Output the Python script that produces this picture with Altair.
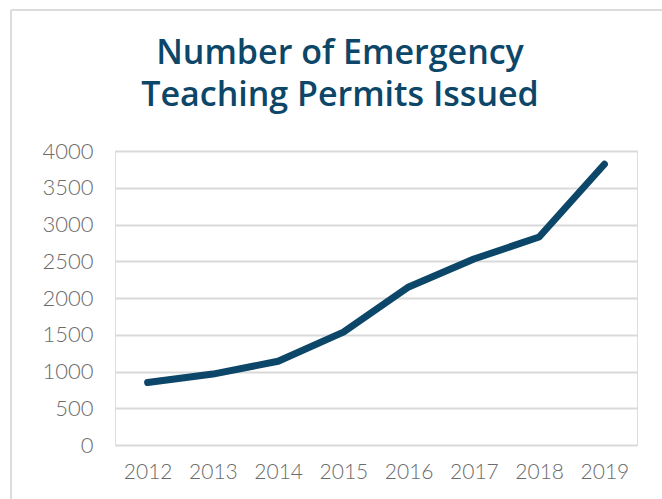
import altair as alt
import pandas as pd

# Emergency teaching permits issued per year
years = ["2012", "2013", "2014", "2015", "2016", "2017", "2018", "2019"]
permits = [850, 965, 1140, 1535, 2150, 2530, 2830, 3820]

y_ticks = [0, 500, 1000, 1500, 2000, 2500, 3000, 3500, 4000]

NAVY = "#0c4668"
GRID = "#d9d9d9"
LABEL = "#6b6b6b"

df = pd.DataFrame({"year": years, "permits": permits})

line = (
    alt.Chart(df)
    .mark_line(color=NAVY, strokeWidth=7, strokeCap="round", strokeJoin="round")
    .encode(
        x=alt.X(
            "year:O",
            sort=years,
            scale=alt.Scale(type="point", padding=0.5),
            axis=alt.Axis(
                title=None, labelAngle=0, ticks=False, domain=False, grid=False,
                labelPadding=16, labelFontSize=21, labelColor=LABEL,
                labelFont="Lato", labelFontWeight=300,
            ),
        ),
        y=alt.Y(
            "permits:Q",
            scale=alt.Scale(domain=[0, 4000], nice=False),
            axis=alt.Axis(
                title=None, values=y_ticks, format="d", ticks=False, domain=False,
                gridColor=GRID, gridWidth=2, labelPadding=22,
                labelFontSize=22, labelColor=LABEL,
                labelFont="Lato", labelFontWeight=300,
            ),
        ),
    )
)

# light frame around the figure (left and top edges)
frame_left = alt.Chart(df).mark_rule(color="#dcdcdc", strokeWidth=2).encode(
    x=alt.value(-104), y=alt.value(-141), y2=alt.value(360)
)
frame_top = alt.Chart(df).mark_rule(color="#dcdcdc", strokeWidth=2).encode(
    x=alt.value(-104), x2=alt.value(560), y=alt.value(-141)
)

chart = (
    alt.layer(frame_left, frame_top, line)
    .properties(
        width=522,
        height=294,
        autosize=alt.AutoSizeParams(type="none"),
        padding={"left": 115, "top": 151, "right": 25, "bottom": 54},
        title=alt.TitleParams(
            ["Number of Emergency", "Teaching Permits Issued"],
            anchor="middle",
            dx=-36,
            offset=-104,
            fontSize=34,
            lineHeight=42,
            font="Open Sans",
            fontWeight=600,
            color=NAVY,
        ),
    )
    .configure_view(stroke=None)
    .configure(background="white")
)

chart.save("out.html", embed_options={"renderer": "svg", "actions": False})
